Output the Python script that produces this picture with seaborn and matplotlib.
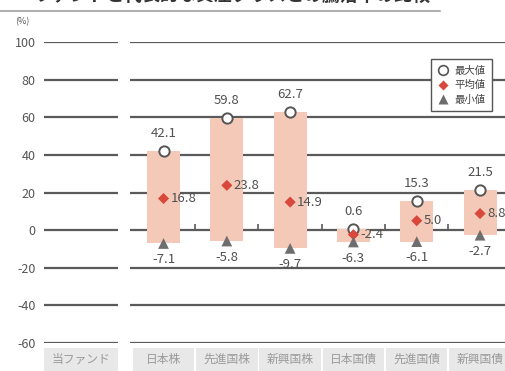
import matplotlib
matplotlib.use("Agg")
import matplotlib.pyplot as plt
from matplotlib.lines import Line2D
from matplotlib.patches import Rectangle
import matplotlib.transforms as mtransforms
import seaborn as sns
import pandas as pd

categories = ["日本株", "先進国株", "新興国株", "日本国債", "先進国債", "新興国債"]
fund_label = "当ファンド"
max_vals = [42.1, 59.8, 62.7, 0.6, 15.3, 21.5]
mean_vals = [16.8, 23.8, 14.9, -2.4, 5.0, 8.8]
min_vals = [-7.1, -5.8, -9.7, -6.3, -6.1, -2.7]
yticks = [100, 80, 60, 40, 20, 0, -20, -40, -60]
title = "ファンドと代表的な資産クラスとの騰落率の比較"
legend_labels = ["最大値", "平均値", "最小値"]

sns.set_theme(style="white")
plt.rcParams["font.family"] = ["Noto Sans CJK JP", "DejaVu Sans"]

pos = list(range(1, len(categories) + 1))
fund_pos = -0.30
df = pd.DataFrame({"x": pos, "max": max_vals, "mean": mean_vals, "min": min_vals})

fig = plt.figure(figsize=(5.06, 3.71), dpi=100)
ax = fig.add_axes([44 / 506, 1 - 343 / 371, 462 / 506, 301 / 371])
ax.set_xlim(-0.888, 6.41)
ax.set_ylim(-60, 100)

grid_c = "#5a5a5a"
for y in yticks:
    ax.hlines(y, -0.888, 0.281, color=grid_c, lw=1.6, zorder=1)
    ax.hlines(y, 0.471, 6.41, color=grid_c, lw=1.6, zorder=1)

# floating bars (min to max)
heights = [mx - mn for mx, mn in zip(max_vals, min_vals)]
ax.bar(pos, heights, bottom=min_vals, width=0.52, color="#f5c9b8", edgecolor="none", zorder=2)

# small ticks on zero line between categories
ax.vlines([p + 0.5 for p in pos[:-1]], 0, 3.2, color=grid_c, lw=1.2, zorder=3)

sns.scatterplot(data=df, x="x", y="max", marker="o", s=55, color="white",
                edgecolor="#555555", linewidth=1.4, ax=ax, zorder=5, legend=False)
sns.scatterplot(data=df, x="x", y="mean", marker="D", s=32, color="#d8483c",
                edgecolor="none", ax=ax, zorder=5, legend=False)
sns.scatterplot(data=df, x="x", y="min", marker="^", s=60, color="#6e6e6e",
                edgecolor="none", ax=ax, zorder=5, legend=False)

txt_c = "#505050"
for p, mx, mn, me in zip(pos, max_vals, min_vals, mean_vals):
    ax.annotate(f"{mx:.1f}", (p, mx), xytext=(0, 8), textcoords="offset points",
                ha="center", va="bottom", fontsize=9.5, color=txt_c, zorder=6)
    ax.annotate(f"{mn:.1f}", (p, mn), xytext=(0, -7), textcoords="offset points",
                ha="center", va="top", fontsize=9.5, color=txt_c, zorder=6)
    ax.annotate(f"{me:.1f}", (p, me), xytext=(5, 0), textcoords="offset points",
                ha="left", va="center", fontsize=9.5, color=txt_c, zorder=6)

ax.set_yticks(yticks)
ax.set_yticklabels([str(v) for v in yticks], fontsize=9, color="#555555")
ax.tick_params(axis="y", length=0, pad=6)
ax.set_xticks([])
ax.set_xlabel("")
ax.set_ylabel("")
for s in ax.spines.values():
    s.set_visible(False)

# category labels in gray boxes
trans = mtransforms.blended_transform_factory(ax.transData, fig.transFigure)
box_top = 1 - 348 / 371
ax.add_patch(Rectangle((-0.888, 0), 0.281 + 0.888, box_top, transform=trans,
                       fc="#e8e8e8", ec="none", clip_on=False))
fig.text(0, 0, "")
ax.text(fund_pos, 1 - 359 / 371, fund_label, transform=trans, ha="center", va="center",
        fontsize=8.5, color="#9a9a9a", clip_on=False)
for p, c in zip(pos, categories):
    ax.add_patch(Rectangle((p - 0.485, 0), 0.97, box_top, transform=trans,
                           fc="#e8e8e8", ec="none", clip_on=False))
    ax.text(p, 1 - 359 / 371, c, transform=trans, ha="center", va="center",
            fontsize=8.5, color="#9a9a9a", clip_on=False)

fig.text(15 / 506, 1 - 22 / 371, "(%)", fontsize=6.5, color="#555555", va="center", ha="left")

# legend
handles = [
    Line2D([], [], marker="o", ls="none", mfc="white", mec="#555555", mew=1.2, ms=7),
    Line2D([], [], marker="D", ls="none", mfc="#d8483c", mec="none", ms=5),
    Line2D([], [], marker="^", ls="none", mfc="#6e6e6e", mec="none", ms=6.5),
]
leg = ax.legend(handles, legend_labels, loc="upper right", bbox_to_anchor=(0.98, 0.96),
                fontsize=7.5, frameon=True, fancybox=False, edgecolor="#555555",
                handlelength=1.0, handletextpad=0.6, borderpad=0.6, labelspacing=0.45,
                framealpha=1)
leg.get_frame().set_linewidth(1.0)
for t in leg.get_texts():
    t.set_color("#444444")
leg.set_zorder(7)

# cropped title and rule
fig.text(35 / 506, 1 + 5 / 371, title, fontsize=13, fontweight="bold", color="#333333",
         ha="left", va="center")
fig.add_artist(Line2D([0, 440 / 506], [1 - 11 / 371, 1 - 11 / 371], color="#b0b0b0", lw=1.5,
                      transform=fig.transFigure))

fig.savefig("out.png", dpi=100)
